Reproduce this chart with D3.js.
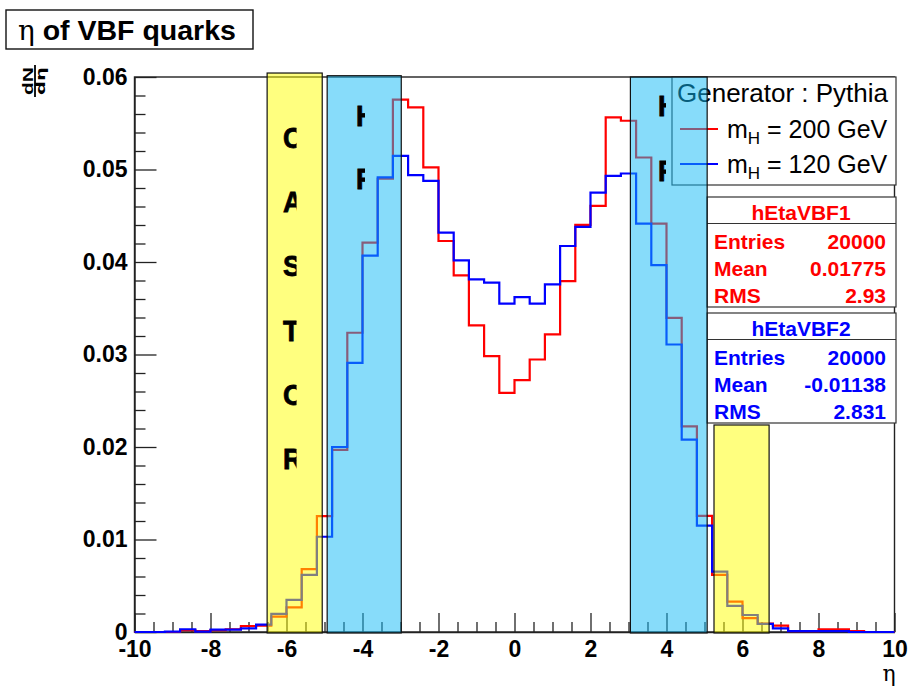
<!DOCTYPE html>
<html>
<head>
<meta charset="utf-8">
<script src="https://cdn.jsdelivr.net/npm/d3@7"></script>
<style>
  html, body { margin: 0; padding: 0; background: #fff; }
  svg { display: block; }
  text { font-family: "Liberation Sans", Arial, sans-serif; }
</style>
</head>
<body>
<svg id="chart" width="910" height="686"></svg>
<script>
// Histogram binning: 50 bins over eta in [-10, 10]
const etaMin = -10, etaMax = 10, nBins = 50;

// Normalised dN/deta, m_H = 200 GeV (hEtaVBF1)
const mH200 = [
  0, 0, 0, 0.0002, 0.0001, 0.0002, 0.0003, 0.00065, 0.0007, 0.00166,
  0.00267, 0.00679, 0.01252, 0.0197, 0.03235, 0.0421, 0.0490, 0.05755, 0.05672, 0.05022,
  0.04227, 0.03856, 0.03314, 0.02982, 0.02585, 0.02722, 0.02946, 0.03217, 0.03794, 0.04401,
  0.04606, 0.05564, 0.05527, 0.0513, 0.04415, 0.03397, 0.02224, 0.01256, 0.00617, 0.00328,
  0.0015, 0.0009, 0.0007, 0.0001, 0.0001, 0.0003, 0.0003, 0.0001, 0, 0
];

// Normalised dN/deta, m_H = 120 GeV (hEtaVBF2)
const mH120 = [
  0, 0, 0.00005, 0.0003, 0.00005, 0.00025, 0.00025, 0.0004, 0.0008, 0.00195,
  0.00347, 0.00617, 0.0103, 0.0200, 0.0291, 0.04068, 0.04914, 0.05148, 0.0494, 0.04877,
  0.04318, 0.04018, 0.03812, 0.03777, 0.03549, 0.0362, 0.03549, 0.03758, 0.04173, 0.04379,
  0.04751, 0.04931, 0.04957, 0.04415, 0.03967, 0.03108, 0.0208, 0.0115, 0.00653, 0.00282,
  0.00184, 0.00087, 0.0004, 0.0001, 0.0001, 0.0001, 0.0001, 0, 0, 0
];

// Axis ticks
const yMajorTicks = [0, 0.01, 0.02, 0.03, 0.04, 0.05, 0.06];
const yTickLabels = ["0", "0.01", "0.02", "0.03", "0.04", "0.05", "0.06"];
const xMajorTicks = [-10, -8, -6, -4, -2, 0, 2, 4, 6, 8, 10];
const xTickLabels = ["-10", "-8", "-6", "-4", "-2", "0", "2", "4", "6", "8", "10"];

// Detector acceptance regions (eta ranges and box tops in dN/deta units)
const regionNames = ["CASTOR", "HF", "HF", "CASTOR"];
const regionEtaLo = [-6.51, -4.93, 3.05, 5.25];
const regionEtaHi = [-5.06, -2.98, 5.07, 6.70];
const regionTop   = [0.06043, 0.06014, 0.0600, 0.02238];
const regionColor = ["rgba(255,255,0,0.5)", "rgba(15,185,245,0.5)", "rgba(15,185,245,0.5)", "rgba(255,255,0,0.5)"];

// Legend and statistics
const legendHeader = "Generator : Pythia";
const seriesMass = ["200", "120"];
const seriesColor = ["#ff0000", "#0000ff"];
const statNames = ["hEtaVBF1", "hEtaVBF2"];
const statEntries = ["20000", "20000"];
const statMean = ["0.01775", "-0.01138"];
const statRMS = ["2.93", "2.831"];

const svg = d3.select("#chart");
svg.append("rect").attr("width", 910).attr("height", 686).attr("fill", "#fff");

const x = d3.scaleLinear().domain([etaMin, etaMax]).range([134.5, 894.5]);
const y = d3.scaleLinear().domain([0, 0.06]).range([632, 77]);
const binW = (etaMax - etaMin) / nBins;

// Frame
svg.append("rect")
  .attr("x", x(etaMin)).attr("y", y(0.06))
  .attr("width", x(etaMax) - x(etaMin)).attr("height", y(0) - y(0.06))
  .attr("fill", "none").attr("stroke", "#222").attr("stroke-width", 1.4);

// Axes (ticks point into the frame)
const fontAxis = "bold 23px 'Liberation Sans', Arial, sans-serif";
const yMinor = d3.range(0, 0.0601, 0.002).filter(v => Math.abs(v / 0.01 - Math.round(v / 0.01)) > 1e-6);
const xMinor = d3.range(-10, 10.01, 0.5).filter(v => Math.abs(v / 2 - Math.round(v / 2)) > 1e-6);

svg.append("g").attr("transform", `translate(${x(etaMin)},0)`)
  .call(d3.axisLeft(y).tickValues(yMajorTicks).tickSizeInner(-22).tickSizeOuter(0)
    .tickPadding(7).tickFormat((d, i) => yTickLabels[i]));
svg.append("g").attr("transform", `translate(${x(etaMin)},0)`)
  .call(d3.axisLeft(y).tickValues(yMinor).tickSizeInner(-11).tickSizeOuter(0).tickFormat(""))
  .call(g => g.select(".domain").remove());

svg.append("g").attr("transform", `translate(0,${y(0)})`)
  .call(d3.axisBottom(x).tickValues(xMajorTicks).tickSizeInner(-19).tickSizeOuter(0)
    .tickPadding(9).tickFormat((d, i) => xTickLabels[i]));
svg.append("g").attr("transform", `translate(0,${y(0)})`)
  .call(d3.axisBottom(x).tickValues(xMinor).tickSizeInner(-10).tickSizeOuter(0).tickFormat(""))
  .call(g => g.select(".domain").remove());

svg.selectAll(".tick line").attr("stroke", "#222").attr("stroke-width", 1.3);
svg.selectAll(".domain").attr("stroke", "#222").attr("stroke-width", 1.4);
svg.selectAll(".tick text").attr("fill", "#000").style("font", fontAxis);

// Histogram outlines
const step = d3.line().x(d => x(d[0])).y(d => y(d[1])).curve(d3.curveStepAfter);
function histPoints(vals) {
  const pts = vals.map((v, i) => [etaMin + i * binW, v]);
  pts.push([etaMax, vals[vals.length - 1]]);
  return pts;
}
[mH200, mH120].forEach((vals, k) => {
  svg.append("path").attr("d", step(histPoints(vals)))
    .attr("fill", "none").attr("stroke", seriesColor[k]).attr("stroke-width", 2.2)
    .attr("stroke-linejoin", "miter");
});

// Legend
const leg = svg.append("g");
leg.append("rect").attr("x", 672).attr("y", 77).attr("width", 224).attr("height", 108)
  .attr("fill", "#fff").attr("stroke", "#333").attr("stroke-width", 1.2);
leg.append("text").attr("x", 677).attr("y", 102).attr("fill", "#000")
  .style("font", "26px 'Liberation Sans', Arial, sans-serif").text(legendHeader);
seriesMass.forEach((m, k) => {
  const yy = 129 + k * 35;
  leg.append("line").attr("x1", 680).attr("x2", 718).attr("y1", yy).attr("y2", yy)
    .attr("stroke", seriesColor[k]).attr("stroke-width", 2.2);
  const t = leg.append("text").attr("x", 727).attr("y", yy + 9).attr("fill", "#000")
    .style("font", "25px 'Liberation Sans', Arial, sans-serif");
  t.append("tspan").text("m");
  t.append("tspan").attr("dy", 6).style("font-size", "17px").text("H");
  t.append("tspan").attr("dy", -6).text(` = ${m} GeV`);
});

// Statistics boxes
statNames.forEach((name, k) => {
  const top = 197 + k * 116;
  const g = svg.append("g");
  const col = seriesColor[k];
  g.append("rect").attr("x", 707).attr("y", top).attr("width", 189).attr("height", 110)
    .attr("fill", "#fff").attr("stroke", "#333").attr("stroke-width", 1.2);
  g.append("line").attr("x1", 707).attr("x2", 896).attr("y1", top + 26.5).attr("y2", top + 26.5)
    .attr("stroke", "#333").attr("stroke-width", 1.2);
  const f = "bold 21px 'Liberation Sans', Arial, sans-serif";
  g.append("text").attr("x", 801).attr("y", top + 23).attr("text-anchor", "middle")
    .attr("fill", col).style("font", f).text(name);
  const rows = [["Entries", statEntries[k]], ["Mean", statMean[k]], ["RMS", statRMS[k]]];
  rows.forEach((r, j) => {
    const yy = top + 51.5 + j * 27;
    g.append("text").attr("x", 714).attr("y", yy).attr("fill", col).style("font", f).text(r[0]);
    g.append("text").attr("x", 886).attr("y", yy).attr("text-anchor", "end")
      .attr("fill", col).style("font", f).text(r[1]);
  });
});

// Detector acceptance overlays
regionNames.forEach((nm, k) => {
  svg.append("rect")
    .attr("x", x(regionEtaLo[k])).attr("y", y(regionTop[k]))
    .attr("width", x(regionEtaHi[k]) - x(regionEtaLo[k]))
    .attr("height", y(-0.0001) - y(regionTop[k]))
    .attr("fill", regionColor[k]).attr("stroke", "#111").attr("stroke-width", 1.2);
});

// Region labels (vertical letters inside narrow clipped text boxes)
const defs = svg.append("defs");
const letterSets = [
  { id: "clipC", letters: "CASTOR".split(""), x0: 283, clipR: 296.5, y0: 148, dy: 64.2 },
  { id: "clipHL", letters: "HF".split(""), x0: 356, clipR: 365, y0: 126, dy: 63 },
  { id: "clipHR", letters: "HF".split(""), x0: 658, clipR: 666, y0: 116, dy: 65 }
];
letterSets.forEach(s => {
  defs.append("clipPath").attr("id", s.id).append("rect")
    .attr("x", s.x0 - 5).attr("y", 60).attr("width", s.clipR - s.x0 + 5).attr("height", 560);
  const g = svg.append("g").attr("clip-path", `url(#${s.id})`);
  s.letters.forEach((ch, i) => {
    g.append("text")
      .attr("transform", `translate(${s.x0},${s.y0 + i * s.dy}) scale(0.9,1)`)
      .attr("fill", "#000").style("font", "bold 30px 'Liberation Sans', Arial, sans-serif")
      .attr("stroke", "#000").attr("stroke-width", 0.8)
      .text(ch);
  });
});

// Title box
svg.append("rect").attr("x", 6).attr("y", 10).attr("width", 247).attr("height", 39)
  .attr("fill", "#fff").attr("stroke", "#111").attr("stroke-width", 1.4);
const title = svg.append("text").attr("x", 18).attr("y", 39.5).attr("fill", "#000");
title.append("tspan").style("font", "28px 'DejaVu Serif', 'Liberation Serif', serif").text("η");
title.append("tspan").style("font", "bold 28.5px 'Liberation Sans', Arial, sans-serif").text(" of VBF quarks");

// Axis titles
svg.append("text").attr("x", 889).attr("y", 681).attr("text-anchor", "middle").attr("fill", "#000")
  .style("font", "22px 'DejaVu Serif', 'Liberation Serif', serif").text("η");

const yt = svg.append("g").attr("transform", "translate(35,81) rotate(-90)");
yt.append("text").attr("transform", "translate(0,-2) scale(1.5,1)").attr("text-anchor", "middle")
  .attr("fill", "#000").style("font", "bold 14px 'Liberation Sans', Arial, sans-serif").text("dN");
yt.append("line").attr("x1", -16).attr("x2", 16).attr("y1", 0).attr("y2", 0)
  .attr("stroke", "#000").attr("stroke-width", 1.8);
yt.append("text").attr("transform", "translate(0,10) scale(1.5,1)").attr("text-anchor", "middle")
  .attr("fill", "#000").style("font", "bold 13px 'DejaVu Sans', sans-serif").text("dη");
</script>
</body>
</html>
